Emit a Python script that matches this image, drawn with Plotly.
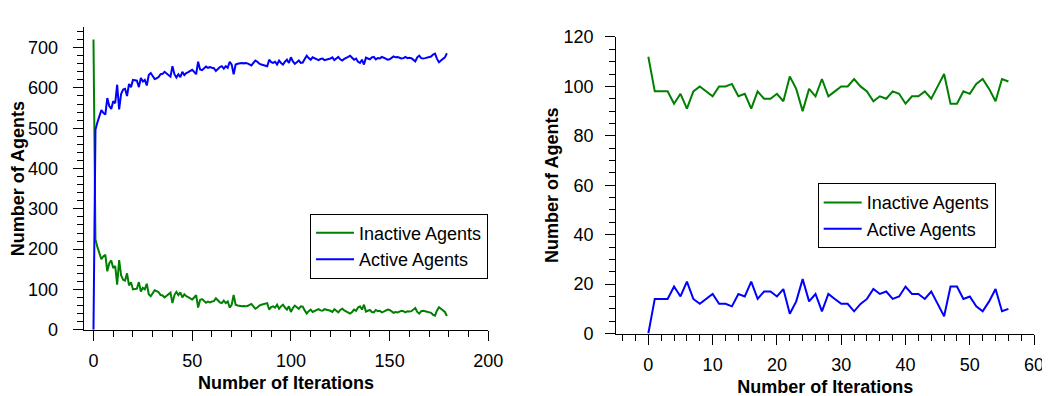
import plotly.graph_objects as go

# ---------------- data ----------------
iter_long = list(range(180))
inactive_long = [
    720, 224, 205, 190, 175, 182, 186, 145, 165, 172,
    153, 158, 112, 173, 135, 124, 122, 140, 110, 118,
    100, 101, 102, 118, 95, 104, 100, 114, 88, 83,
    92, 98, 96, 93, 86, 85, 80, 84, 88, 92,
    66, 86, 94, 86, 93, 80, 88, 83, 81, 78,
    75, 80, 86, 55, 74, 76, 72, 67, 70, 68,
    70, 71, 78, 72, 68, 66, 72, 66, 70, 55,
    62, 86, 62, 60, 59, 58, 59, 58, 59, 62,
    64, 58, 52, 55, 60, 62, 63, 64, 66, 50,
    56, 58, 55, 62, 52, 58, 62, 55, 50, 58,
    44, 54, 60, 56, 52, 58, 57, 48, 40, 46,
    50, 44, 47, 50, 51, 48, 47, 51, 50, 48,
    47, 44, 51, 47, 43, 49, 52, 48, 46, 43,
    40, 44, 50, 47, 55, 58, 50, 62, 45, 47,
    49, 44, 43, 49, 46, 47, 43, 45, 47, 50,
    49, 46, 42, 44, 43, 45, 47, 46, 43, 46,
    45, 46, 50, 54, 44, 40, 46, 47, 46, 45,
    44, 42, 37, 35, 48, 56, 52, 48, 44, 34,
]
active_long = [
    0, 496, 515, 530, 545, 538, 534, 575, 555, 548,
    567, 562, 608, 547, 585, 596, 598, 580, 610, 602,
    620, 619, 618, 602, 625, 616, 620, 606, 632, 637,
    628, 622, 624, 627, 634, 635, 640, 636, 632, 628,
    654, 634, 626, 634, 627, 640, 632, 637, 639, 642,
    645, 640, 634, 665, 646, 644, 648, 653, 650, 652,
    650, 649, 642, 648, 652, 654, 648, 654, 650, 665,
    658, 634, 658, 660, 661, 662, 661, 662, 661, 658,
    656, 662, 668, 665, 660, 658, 657, 656, 654, 670,
    664, 662, 665, 658, 668, 662, 658, 665, 670, 662,
    676, 666, 660, 664, 668, 662, 663, 672, 680, 674,
    670, 676, 673, 670, 669, 672, 673, 669, 670, 672,
    673, 676, 669, 673, 677, 671, 668, 672, 674, 677,
    680, 676, 670, 673, 665, 662, 670, 658, 675, 673,
    671, 676, 677, 671, 674, 673, 677, 675, 673, 670,
    671, 674, 678, 676, 677, 675, 673, 674, 677, 674,
    675, 674, 670, 666, 676, 680, 674, 673, 674, 675,
    676, 678, 683, 685, 672, 664, 668, 672, 676, 686,
]

iter_short = list(range(57))
inactive_short = [
    112, 98, 98, 98, 93, 97, 91, 98, 100, 98,
    96, 100, 100, 101, 96, 97, 91, 98, 95, 95,
    97, 94, 104, 99, 90, 99, 96, 103, 96, 98,
    100, 100, 103, 100, 98, 94, 96, 95, 98, 97,
    93, 96, 96, 98, 95, 100, 105, 93, 93, 98,
    97, 101, 103, 99, 94, 103, 102,
]
active_short = [
    0, 14, 14, 14, 19, 15, 21, 14, 12, 14,
    16, 12, 12, 11, 16, 15, 21, 14, 17, 17,
    15, 18, 8, 13, 22, 13, 16, 9, 16, 14,
    12, 12, 9, 12, 14, 18, 16, 17, 14, 15,
    19, 16, 16, 14, 17, 12, 7, 19, 19, 14,
    15, 11, 9, 13, 18, 9, 10,
]

names = ["Inactive Agents", "Active Agents"]
colors = ["#008000", "#0000FF"]
x_title = "Number of Iterations"
y_title = "Number of Agents"

# ---------------- figure ----------------
fig = go.Figure()
fig.add_trace(go.Scatter(x=iter_long, y=inactive_long, mode="lines", name=names[0],
                         line=dict(color=colors[0], width=2), xaxis="x", yaxis="y",
                         legend="legend"))
fig.add_trace(go.Scatter(x=iter_long, y=active_long, mode="lines", name=names[1],
                         line=dict(color=colors[1], width=2), xaxis="x", yaxis="y",
                         legend="legend"))
fig.add_trace(go.Scatter(x=iter_short, y=inactive_short, mode="lines", name=names[0],
                         line=dict(color=colors[0], width=2), xaxis="x2", yaxis="y2",
                         legend="legend2"))
fig.add_trace(go.Scatter(x=iter_short, y=active_short, mode="lines", name=names[1],
                         line=dict(color=colors[1], width=2), xaxis="x2", yaxis="y2",
                         legend="legend2"))

W, H = 1050, 396
font_family = "Liberation Sans, Arial, sans-serif"
tickfont = dict(family=font_family, size=18, color="black")
titlefont = dict(family=font_family, size=18, color="black", weight="bold")

def xax(domain, rng, dtick, mdtick, anchor):
    return dict(domain=domain, range=rng, anchor=anchor, showgrid=False, zeroline=False,
                showline=True, linecolor="black", linewidth=1,
                ticks="outside", ticklen=10, tickwidth=1, tickcolor="black",
                tick0=0, dtick=dtick, tickfont=tickfont, ticklabelstandoff=5,
                minor=dict(ticks="outside", ticklen=6, tickwidth=1, tickcolor="black",
                           dtick=mdtick, tick0=0, showgrid=False),
                title=dict(text=x_title, font=titlefont, standoff=6))

def yax(domain, rng, dtick, mdtick, anchor, standoff):
    return dict(domain=domain, range=rng, anchor=anchor, showgrid=False, zeroline=False,
                showline=True, linecolor="black", linewidth=1,
                ticks="outside", ticklen=10, tickwidth=1, tickcolor="black",
                tick0=0, dtick=dtick, tickfont=tickfont, ticklabelstandoff=standoff,
                minor=dict(ticks="outside", ticklen=6, tickwidth=1, tickcolor="black",
                           dtick=mdtick, tick0=0, showgrid=False),
                title=dict(text=y_title, font=titlefont, standoff=0))

fig.update_layout(
    width=W, height=H,
    margin=dict(l=0, r=0, t=0, b=0),
    paper_bgcolor="white", plot_bgcolor="white",
    showlegend=True,
    xaxis=xax([76.7 / W, 487.3 / W], [-5, 200], 50, 10, "y"),
    yaxis=yax([1 - 328.3 / H, 1 - 10 / H], [0, 750], 100, 20, "x", 11),
    xaxis2=xax([617 / W, 1041 / W], [-5, 60], 10, 2, "y2"),
    yaxis2=yax([1 - 332.3 / H, 1 - 20 / H], [0, 120], 20, 5, "x2", 8),
    legend=dict(x=487 / W, xanchor="right", y=1 - 206 / H, yanchor="top",
                bordercolor="black", borderwidth=1, bgcolor="white",
                font=dict(family=font_family, size=18, color="black"),
                tracegroupgap=0, itemwidth=38),
    legend2=dict(x=1002 / W, xanchor="right", y=1 - 174 / H, yanchor="top",
                 bordercolor="black", borderwidth=1, bgcolor="white",
                 font=dict(family=font_family, size=18, color="black"),
                 tracegroupgap=0, itemwidth=38),
)

fig.write_html("out.html")
